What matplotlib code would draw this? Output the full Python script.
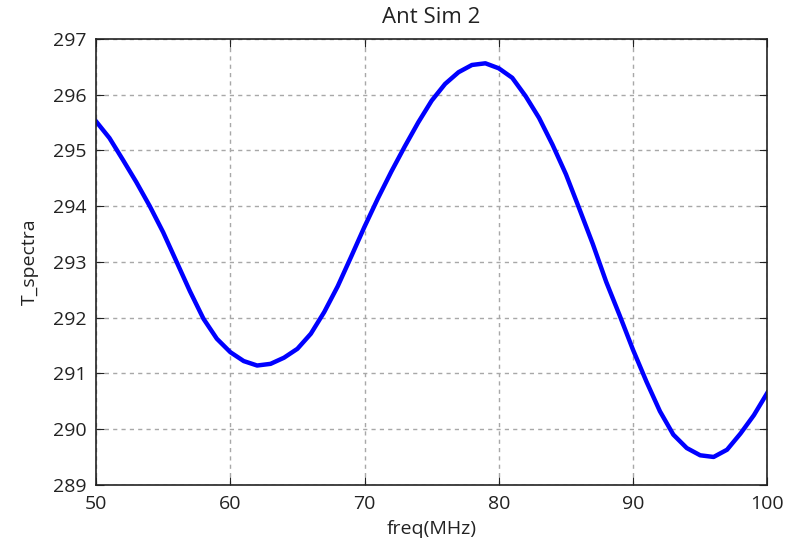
# Ant Sim 2 - spectre de température
import matplotlib
matplotlib.use('Agg')
import matplotlib.pyplot as plt

plt.rcParams['font.family'] = ['Open Sans', 'DejaVu Sans']

# données (freq en MHz, température)
freq = [50, 51, 52, 53, 54, 55, 56, 57, 58, 59,
        60, 61, 62, 63, 64, 65, 66, 67, 68, 69,
        70, 71, 72, 73, 74, 75, 76, 77, 78, 79,
        80, 81, 82, 83, 84, 85, 86, 87, 88, 89,
        90, 91, 92, 93, 94, 95, 96, 97, 98, 99, 100]
t_spectra = [295.52, 295.22, 294.83, 294.43, 294.00, 293.53, 293.00, 292.47, 291.98, 291.62,
             291.38, 291.22, 291.14, 291.17, 291.28, 291.44, 291.71, 292.10, 292.56, 293.09,
             293.63, 294.14, 294.62, 295.07, 295.50, 295.89, 296.19, 296.40, 296.53, 296.56,
             296.47, 296.30, 295.97, 295.58, 295.10, 294.57, 293.95, 293.32, 292.64, 292.04,
             291.42, 290.85, 290.32, 289.90, 289.66, 289.53, 289.50, 289.63, 289.92, 290.25, 290.65]

figure = plt.figure(figsize=(7.87, 5.46), dpi=100, facecolor='white')
axes = figure.add_axes([0.122, 0.112, 0.853, 0.817])

axes.plot(freq, t_spectra, color='#0000ff', linewidth=3.2, solid_joinstyle='round')

axes.set_xlim(50, 100)
axes.set_ylim(289, 297)
axes.set_xticks([50, 60, 70, 80, 90, 100])
axes.set_yticks(range(289, 298))

# grille et graduations façon "classic"
axes.grid(True, color='#a8a8a8', linestyle=(0, (3, 3)), linewidth=1.0)
axes.tick_params(direction='in', top=True, right=True, length=6, labelsize=14, pad=7, colors='#222222')
for spine in axes.spines.values():
    spine.set_linewidth(1.2)
    spine.set_color('#222222')

axes.set_title('Ant Sim 2', fontsize=16, color='#222222', pad=11)
axes.set_xlabel('freq(MHz)', fontsize=14, color='#222222', labelpad=5)
axes.set_ylabel('T_spectra', fontsize=14, color='#222222', labelpad=10)

figure.savefig('out.png', dpi=100, facecolor='white')
